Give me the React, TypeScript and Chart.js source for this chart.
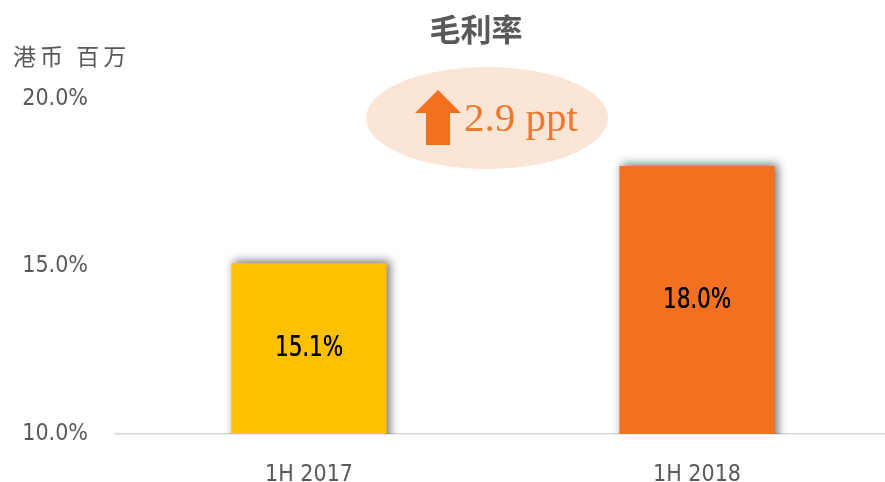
import React, { useEffect, useRef } from "react";
import { Chart, registerables } from "chart.js";

Chart.register(...registerables);

const categories: string[] = ["1H 2017", "1H 2018"];
const margins: number[] = [15.1, 18.0];
const barColors: string[] = ["#FFC000", "#F37021"];
const yTickValues: number[] = [10, 15, 20];
const titleText = "毛利率";
const unitText = "港币 百万";
const changeText = "2.9 ppt";

const narrow = "'Liberation Sans Narrow', 'DejaVu Sans Condensed', Roboto, sans-serif";

const shadowPlugin = {
  id: "barShadow",
  beforeDatasetsDraw(chart: any) {
    const ctx = chart.ctx;
    ctx.save();
    ctx.shadowColor = "rgba(0,0,0,0.55)";
    ctx.shadowBlur = 9;
    ctx.shadowOffsetX = 3;
    ctx.shadowOffsetY = -2;
  },
  afterDatasetsDraw(chart: any) {
    chart.ctx.restore();
  },
};

const labelPlugin = {
  id: "barLabels",
  afterDraw(chart: any) {
    const ctx = chart.ctx;
    const meta = chart.getDatasetMeta(0);
    const bottom = chart.chartArea.bottom;
    const sx = 0.82;
    meta.data.forEach((bar: any, i: number) => {
      ctx.save();
      ctx.fillStyle = "#000000";
      ctx.font = `29px ${narrow}`;
      ctx.textAlign = "center";
      ctx.textBaseline = "middle";
      ctx.translate(bar.x, (bar.y + bottom) / 2);
      ctx.scale(sx, 1);
      const t = margins[i].toFixed(1) + "%";
      ctx.fillText(t, 0, 0);
      ctx.fillText(t, 0.4, 0);
      ctx.restore();
    });
  },
};

const annotationPlugin = {
  id: "annotations",
  afterDraw(chart: any) {
    const ctx = chart.ctx;
    ctx.save();
    // title
    ctx.fillStyle = "#595959";
    ctx.font = "bold 31px 'Noto Sans CJK SC', sans-serif";
    ctx.textAlign = "center";
    ctx.textBaseline = "middle";
    ctx.fillText(titleText, 476, 29);
    // unit
    ctx.font = "23px 'Noto Sans CJK SC', sans-serif";
    ctx.textAlign = "left";
    (ctx as any).letterSpacing = "4px";
    ctx.fillText(unitText, 13, 56);
    (ctx as any).letterSpacing = "0px";
    // ellipse
    ctx.fillStyle = "#FBE5D6";
    ctx.beginPath();
    ctx.ellipse(487, 118, 121, 51, 0, 0, Math.PI * 2);
    ctx.fill();
    // arrow
    ctx.fillStyle = "#F37021";
    ctx.beginPath();
    ctx.moveTo(438, 90);
    ctx.lineTo(461, 113);
    ctx.lineTo(450, 113);
    ctx.lineTo(450, 145);
    ctx.lineTo(426, 145);
    ctx.lineTo(426, 113);
    ctx.lineTo(415, 113);
    ctx.closePath();
    ctx.fill();
    // change text
    ctx.fillStyle = "#F0782E";
    ctx.font = "41px 'Liberation Serif', 'DejaVu Serif', serif";
    ctx.textAlign = "left";
    ctx.textBaseline = "alphabetic";
    ctx.fillText(changeText, 464, 131);
    ctx.restore();
  },
};

export default function App() {
  const ref = useRef<HTMLCanvasElement | null>(null);
  useEffect(() => {
    if (!ref.current) return;
    const chart = new Chart(ref.current, {
      type: "bar",
      data: {
        labels: categories,
        datasets: [
          {
            data: margins,
            backgroundColor: barColors,
            borderWidth: 0,
            categoryPercentage: 1,
            barPercentage: 0.4,
          },
        ],
      },
      options: {
        animation: false,
        responsive: false,
        maintainAspectRatio: false,
        layout: { padding: { top: 99, right: 0, left: 0, bottom: 0 } },
        plugins: {
          legend: { display: false },
          tooltip: { enabled: false },
          title: { display: false },
        },
        scales: {
          x: {
            grid: { display: false },
            border: { display: true, color: "#D9D9D9", width: 1.5 },
            ticks: {
              color: "#595959",
              font: { family: narrow, size: 23 },
              padding: 19,
            },
            afterFit: (s: any) => {
              s.height = 48;
            },
          },
          y: {
            min: 10,
            max: 20,
            grid: { display: false },
            border: { display: false },
            afterBuildTicks: (s: any) => {
              s.ticks = yTickValues.map((v) => ({ value: v }));
            },
            ticks: {
              color: "#595959",
              font: { family: narrow, size: 23 },
              padding: 19,
              callback: (v: any) => Number(v).toFixed(1) + "%",
            },
            afterFit: (s: any) => {
              s.width = 115;
            },
          },
        },
      },
      plugins: [shadowPlugin, labelPlugin, annotationPlugin],
    });
    return () => chart.destroy();
  }, []);
  return (
    <div style={{ width: 885, height: 482, overflow: "hidden", position: "absolute", left: 0, top: 0, background: "#fff" }}>
      <canvas ref={ref} width={891} height={482} style={{ display: "block" }} />
    </div>
  );
}
